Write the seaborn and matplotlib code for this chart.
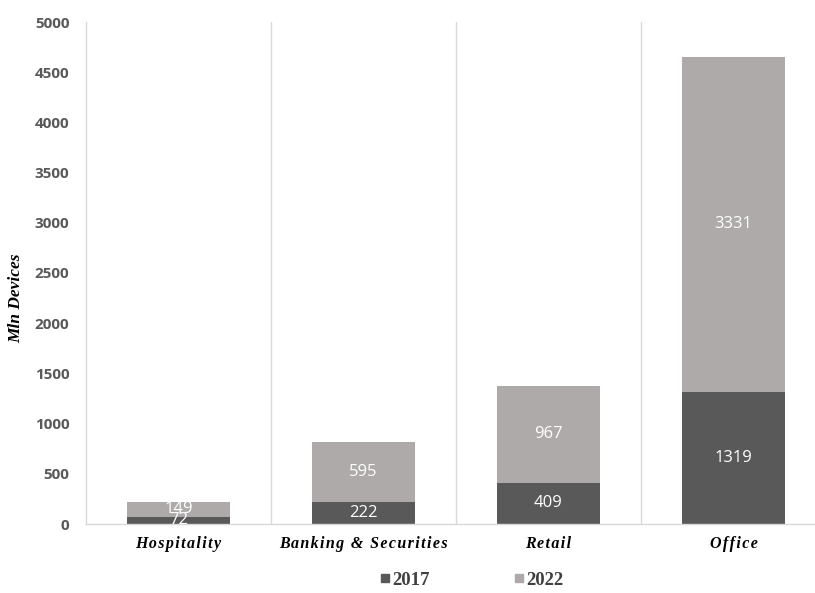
import matplotlib
matplotlib.use("Agg")
import matplotlib.pyplot as plt
from matplotlib.lines import Line2D
import seaborn as sns
import pandas as pd

# Devices by vertical, millions
categories = ["Hospitality", "Banking & Securities", "Retail", "Office"]
values_2017 = [72, 222, 409, 1319]
values_2022 = [149, 595, 967, 3331]
series_names = ["2017", "2022"]
y_ticks = [0, 500, 1000, 1500, 2000, 2500, 3000, 3500, 4000, 4500, 5000]

dark = "#595959"
light = "#AEAAAA"
grid_col = "#D9D9D9"

sns.set_theme(style="white")
plt.rcParams["font.family"] = ["Open Sans", "DejaVu Sans"]

df = pd.DataFrame({
    "category": categories,
    "y2017": values_2017,
    "y2022": values_2022,
})
df["total"] = df["y2017"] + df["y2022"]

fig = plt.figure(figsize=(8.15, 5.93), dpi=100)
ax = fig.add_axes([86 / 815, 1 - 524 / 593, 729 / 815, 502 / 593])

# stacked bars: full stack in light grey, 2017 share drawn over it
sns.barplot(data=df, x="category", y="total", color=light, saturation=1,
            width=0.56, ax=ax, order=categories)
sns.barplot(data=df, x="category", y="y2017", color=dark, saturation=1,
            width=0.56, ax=ax, order=categories)

bars_total = ax.containers[0]
bars_2017 = ax.containers[1]
for rect in list(bars_total) + list(bars_2017):
    rect.set_edgecolor("none")

label_font = dict(color="white", fontsize=12, family=["Open Sans", "DejaVu Sans"])
for rect, v17, v22 in zip(bars_2017, values_2017, values_2022):
    xc = rect.get_x() + rect.get_width() / 2
    ax.text(xc, v17 / 2, f"{v17}", ha="center", va="center", **label_font)
    ax.text(xc, v17 + v22 / 2, f"{v22}", ha="center", va="center", **label_font)

ax.set_ylim(0, 5000)
ax.set_xlim(-0.5, 3.5 - 11 / 185)
ax.set_yticks(y_ticks)
ax.set_yticklabels([str(t) for t in y_ticks], fontsize=11, fontweight="bold",
                   color=dark)

# category labels in letter-spaced bold italic serif
serif = ["Liberation Serif", "DejaVu Serif"]
ax.set_xticks(range(len(categories)))
ax.set_xticklabels(["\u200a".join(c) for c in categories],
                   fontfamily=serif, fontstyle="italic",
                   fontweight="bold", fontsize=11.5, color="black")

ax.set_xlabel("")
ax.set_ylabel("Mln Devices", fontfamily=serif, fontstyle="italic",
              fontweight="bold", fontsize=12.5, color="black")
ax.yaxis.set_label_coords(-0.085, 0.45)

# separators between categories
ax.set_xticks([0.5, 1.5, 2.5], minor=True)
ax.grid(False)
ax.grid(True, which="minor", axis="x", color=grid_col, linewidth=1)
ax.tick_params(axis="x", which="major", length=0, pad=9)
ax.tick_params(axis="x", which="minor", length=4, color=grid_col, width=1)
ax.tick_params(axis="y", length=5, color=grid_col, width=1, pad=7)

for side in ["top", "right"]:
    ax.spines[side].set_visible(False)
for side in ["left", "bottom"]:
    ax.spines[side].set_color(grid_col)
    ax.spines[side].set_linewidth(1)

handles = [Line2D([], [], marker="s", linestyle="none", markersize=6,
                  color=c) for c in (dark, light)]
fig.legend(handles, series_names, loc="center", ncol=2,
           bbox_to_anchor=(472 / 815, 1 - 580 / 593), frameon=False,
           prop=dict(family=serif, weight="bold", size=13.5),
           labelcolor="#404040", handlelength=0.5, handletextpad=0.15,
           columnspacing=4.5)

fig.savefig("out.png", dpi=100)
